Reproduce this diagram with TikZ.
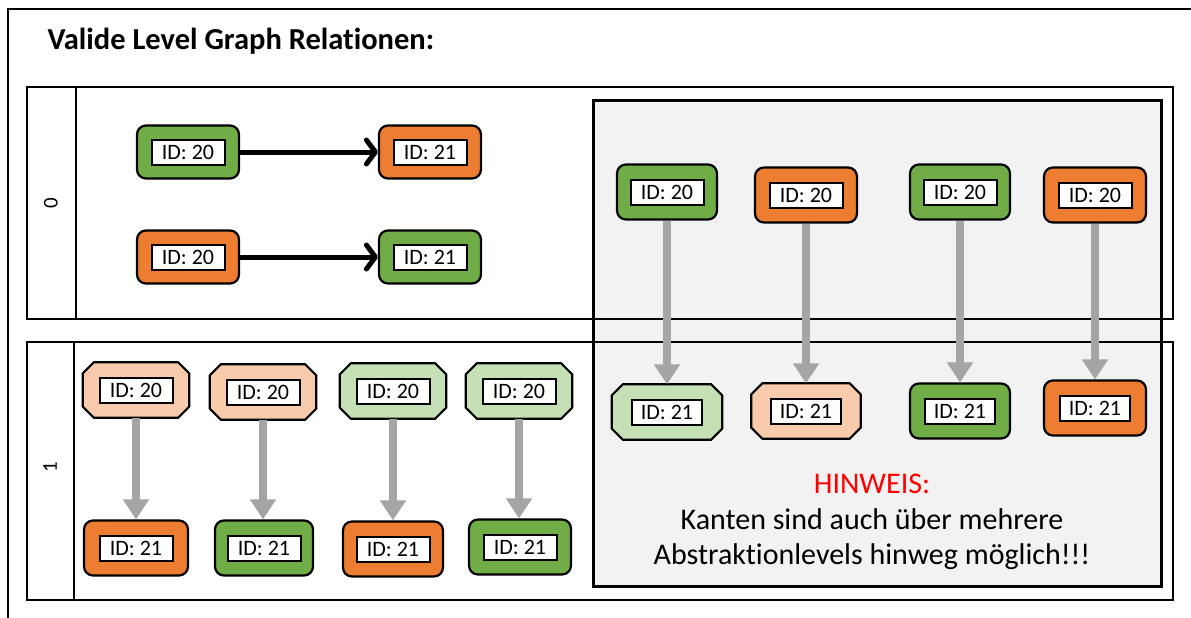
\documentclass[tikz,border=0pt]{standalone}
\usepackage{fontspec}
\setmainfont{Carlito}[Ligatures=NoCommon]
\usetikzlibrary{arrows.meta}

\definecolor{accgreen}{HTML}{70AD47}
\definecolor{accorange}{HTML}{ED7D31}
\definecolor{palegreen}{HTML}{C5E0B4}
\definecolor{paleorange}{HTML}{F8CBAD}
\definecolor{panelgray}{HTML}{F2F2F2}
\definecolor{linkgray}{HTML}{A5A5A5}

% octagonal outline (cut corners) around an already placed node
\newcommand\cutcorners[2]{%
  \filldraw[fill=#2,draw=black,line width=2.2pt,line join=round]
    ([xshift=11pt]#1.north west) -- ([xshift=-11pt]#1.north east)
    -- ([yshift=-11pt]#1.north east) -- ([yshift=11pt]#1.south east)
    -- ([xshift=-11pt]#1.south east) -- ([xshift=11pt]#1.south west)
    -- ([yshift=11pt]#1.south west) -- ([yshift=-11pt]#1.north west) -- cycle;}

\begin{document}
\begin{tikzpicture}[x=1pt,y=-1pt,
  rbox/.style={draw=black,line width=2.2pt,rounded corners=9pt,
    minimum width=102pt,minimum height=53pt,inner sep=0pt},
  gbox/.style={rbox,fill=accgreen},
  obox/.style={rbox,fill=accorange},
  cbox/.style={minimum width=106pt,minimum height=55pt,inner sep=0pt},
  idtag/.style={draw=black,line width=2pt,fill=white,minimum width=73pt,
    minimum height=25pt,inner sep=0pt,font=\fontsize{22}{24}\selectfont},
  samelevel/.style={line width=5pt,
    -{Straight Barb[length=9pt,width=24pt,line cap=round,line join=round]}},
  crosslevel/.style={draw=linkgray,line width=7.5pt,
    -{Triangle[length=20pt,width=25pt]}},
  lane/.style={draw=black,line width=2pt},
  lanelabel/.style={rotate=90,font=\fontsize{21}{23}\selectfont}
]
\useasboundingbox (0,0) rectangle (1191,618);

% outer frame (open towards right and bottom)
\draw[line width=2pt] (8,618) -- (8,9) -- (1191,9);

% heading
\node[anchor=base west,font=\bfseries\fontsize{30.5}{34}\selectfont]
  (title) at (44,50) {Valide Level Graph Relationen:};

% swimlanes, white background first
\fill[white] (27,87) rectangle (1173,319);
\fill[white] (27,342) rectangle (1173,600);

% grey note panel spanning both levels
\fill[panelgray] (593,100) rectangle (1161,586);

% lane borders over the panel
\draw[lane] (27,87) rectangle (1173,319);
\draw[lane] (76,87) -- (76,319);
\draw[lane] (27,342) rectangle (1173,600);
\draw[lane] (74,342) -- (74,600);
\draw[line width=3pt] (593,100) rectangle (1161,586);

\node[lanelabel] (lvl0) at (51,203) {0};
\node[lanelabel] (lvl1) at (50,467) {1};

% level 0: edges within one level
\node[gbox] (a1) at (188,152) {};
\node[idtag] (a1t) at (a1) {ID: 20};
\node[obox] (a2) at (430,152) {};
\node[idtag] (a2t) at (a2) {ID: 21};
\node[obox] (b1) at (188,257) {};
\node[idtag] (b1t) at (b1) {ID: 20};
\node[gbox] (b2) at (430,257) {};
\node[idtag] (b2t) at (b2) {ID: 21};
\draw[samelevel] (a1.east) -- (a2.west);
\draw[samelevel] (b1.east) -- (b2.west);

% level 1: edges from abstract nodes down to concrete nodes
\node[cbox] (r1) at (136,390) {};
\cutcorners{r1}{paleorange}
\node[idtag] (r1t) at (r1) {ID: 20};
\node[cbox] (r2) at (263,392) {};
\cutcorners{r2}{paleorange}
\node[idtag] (r2t) at (r2) {ID: 20};
\node[cbox] (r3) at (393,391) {};
\cutcorners{r3}{palegreen}
\node[idtag] (r3t) at (r3) {ID: 20};
\node[cbox] (r4) at (519,391) {};
\cutcorners{r4}{palegreen}
\node[idtag] (r4t) at (r4) {ID: 20};

\node[obox,minimum width=104pt,minimum height=55pt] (s1) at (136,548) {};
\node[idtag] (s1t) at (s1) {ID: 21};
\node[gbox,minimum width=98pt,minimum height=55pt] (s2) at (264,548) {};
\node[idtag] (s2t) at (s2) {ID: 21};
\node[obox,minimum width=100pt,minimum height=55pt] (s3) at (393,549) {};
\node[idtag] (s3t) at (s3) {ID: 21};
\node[gbox,minimum width=102pt,minimum height=55pt] (s4) at (520,547) {};
\node[idtag] (s4t) at (s4) {ID: 21};

\draw[crosslevel] (r1.south) -- (r1.south |- s1.north);
\draw[crosslevel] (r2.south) -- (r2.south |- s2.north);
\draw[crosslevel] (r3.south) -- (r3.south |- s3.north);
\draw[crosslevel] (r4.south) -- (r4.south |- s4.north);

% panel: edges spanning levels 0 and 1
\node[gbox,minimum width=100pt,minimum height=55pt] (p1) at (667,192) {};
\node[idtag] (p1t) at (p1) {ID: 20};
\node[obox,minimum width=102pt,minimum height=55pt] (p2) at (806,195) {};
\node[idtag] (p2t) at (p2) {ID: 20};
\node[gbox,minimum width=100pt,minimum height=55pt] (p3) at (960,192) {};
\node[idtag] (p3t) at (p3) {ID: 20};
\node[obox,minimum width=102pt,minimum height=55pt] (p4) at (1095,195) {};
\node[idtag] (p4t) at (p4) {ID: 20};

\node[cbox,minimum width=110pt] (q1) at (667,412) {};
\cutcorners{q1}{palegreen}
\node[idtag,minimum width=70pt] (q1t) at (q1) {ID: 21};
\node[cbox,minimum width=109pt] (q2) at (806,411) {};
\cutcorners{q2}{paleorange}
\node[idtag,minimum width=70pt] (q2t) at (q2) {ID: 21};
\node[gbox,minimum width=100pt,minimum height=55pt] (q3) at (960,411) {};
\node[idtag,minimum width=70pt] (q3t) at (q3) {ID: 21};
\node[obox,minimum width=102pt,minimum height=55pt] (q4) at (1095,408) {};
\node[idtag,minimum width=70pt] (q4t) at (q4) {ID: 21};

\draw[crosslevel] (p1.south) -- (p1.south |- q1.north);
\draw[crosslevel] (p2.south) -- (p2.south |- q2.north);
\draw[crosslevel] (p3.south) -- (p3.south |- q3.north);
\draw[crosslevel] (p4.south) -- (p4.south |- q4.north);

% note text
\node[text=red,font=\fontsize{30}{34}\selectfont] (hint) at (872,484) {HINWEIS:};
\node[align=center,font=\fontsize{30}{35}\selectfont] (hinttext) at (872,539)
  {Kanten sind auch über mehrere\\Abstraktionlevels hinweg möglich!!!};
\end{tikzpicture}
\end{document}
